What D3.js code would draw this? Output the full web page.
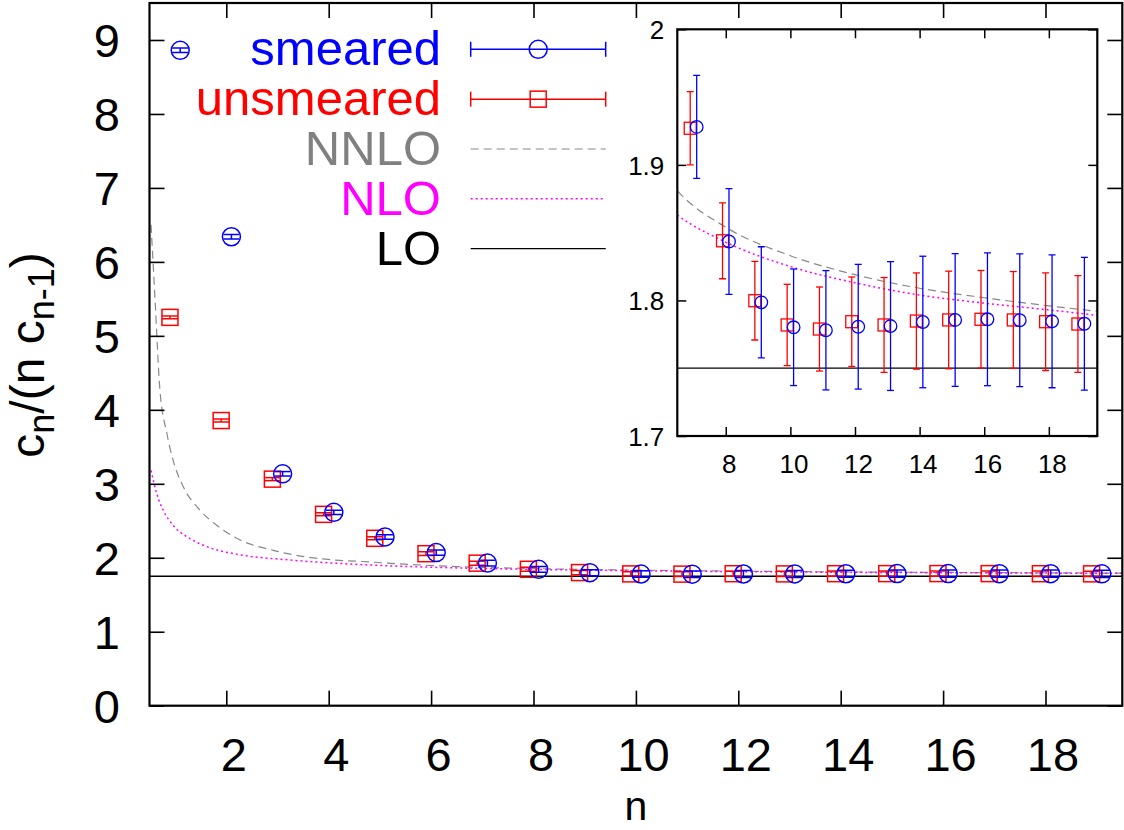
<!DOCTYPE html>
<html><head><meta charset="utf-8">
<script src="https://cdn.jsdelivr.net/npm/d3@7"></script>
<style>
body{margin:0;background:#fff}
svg{display:block}
text{font-family:"Liberation Sans",Arial,Helvetica,sans-serif}
</style></head>
<body><svg id="c" width="1124" height="830"></svg>
<script>
// ---------- data ----------
const nValues = [1,2,3,4,5,6,7,8,9,10,11,12,13,14,15,16,17,18,19];
const smeared = [8.86,6.34,3.135,2.614,2.281,2.07,1.928,1.8435,1.7986,1.7802,1.778,1.7806,1.7811,1.7841,1.7856,1.7861,1.7854,1.7846,1.7828];
const smearedErr = [0.03,0.03,0.03,0.03,0.03,0.035,0.038,0.039,0.041,0.043,0.044,0.046,0.0475,0.0485,0.049,0.049,0.049,0.049,0.049];
const unsmeared = [5.25,3.855,3.063,2.587,2.263,2.055,1.927,1.844,1.7998,1.7819,1.7789,1.7843,1.7819,1.7848,1.7856,1.7861,1.7856,1.7843,1.7826];
const unsmearedErr = [0.02,0.02,0.02,0.02,0.02,0.025,0.027,0.028,0.029,0.030,0.031,0.033,0.035,0.0355,0.036,0.036,0.0357,0.036,0.0357];
const nnloN = [0.53,0.61,0.7,0.84,0.96,1.16,1.49,1.81,2.27,2.92,3.57,4.87,6.5,8,10,12,14,16,18,19.5];
const nnloV = [6.5,5.47,4.3,3.68,3.32,2.96,2.64,2.44,2.24,2.10,2.01,1.94,1.881,1.854,1.833,1.819,1.809,1.802,1.796,1.792];
const nloN = [0.53,0.64,0.77,0.96,1.29,1.62,2.27,3.24,4.87,6.5,8,10,12,14,16,18,19.5];
const nloV = [3.18,2.87,2.64,2.44,2.26,2.15,2.04,1.97,1.90,1.863,1.843,1.825,1.813,1.804,1.798,1.793,1.789];
const loValue = 1.75;
const xTicks = [2,4,6,8,10,12,14,16,18];
const yTicks = [0,1,2,3,4,5,6,7,8,9];
const insetXTicks = [8,10,12,14,16,18];
const insetYTicks = [1.7,1.8,1.9,2.0];
const insetYLabels = ["1.7","1.8","1.9","2"];
const legendLabels = ["smeared","unsmeared","NNLO","NLO","LO"];

// ---------- setup ----------
const svg = d3.select("#c");
const FONT = '"Liberation Sans",Arial,Helvetica,sans-serif';
const BLUE="#0000ff", RED="#ff0000", GRAY="#888888", MAG="#ff00ff";
const M = {l:149.5, r:1122.3, t:3, b:705.7};
const x = d3.scaleLinear().domain([0.5,19.5]).range([M.l,M.r]);
const y = d3.scaleLinear().domain([0,9.5]).range([M.b,M.t]);
const I = {l:677.3, r:1097.3, t:29.3, b:436};
const xi = d3.scaleLinear().domain([6.5,19.5]).range([I.l,I.r]);
const yi = d3.scaleLinear().domain([1.7,2.0]).range([I.b,I.t]);

const defs = svg.append("defs");
defs.append("clipPath").attr("id","clipMain").append("rect")
  .attr("x",M.l).attr("y",M.t).attr("width",M.r-M.l).attr("height",M.b-M.t);
defs.append("clipPath").attr("id","clipInset").append("rect")
  .attr("x",I.l).attr("y",I.t).attr("width",I.r-I.l).attr("height",I.b-I.t);

const zip = (a,b)=>a.map((v,i)=>[v,b[i]]);

function drawCurves(g, xs, ys){
  const ln = d3.line().x(d=>xs(d[0])).y(d=>ys(d[1])).curve(d3.curveMonotoneX);
  g.append("path").attr("d", ln(zip(nnloN,nnloV))).attr("fill","none")
    .attr("stroke",GRAY).attr("stroke-width",1.2).attr("stroke-dasharray","8,5");
  g.append("path").attr("d", ln(zip(nloN,nloV))).attr("fill","none")
    .attr("stroke",MAG).attr("stroke-width",1.5).attr("stroke-dasharray","2,3");
  g.append("line").attr("x1",xs.range()[0]).attr("x2",xs.range()[1])
    .attr("y1",ys(loValue)).attr("y2",ys(loValue)).attr("stroke","#000").attr("stroke-width",1.3);
}

function drawPoints(g, xs, ys, vals, errs, shift, color, kind, size, cap, sw){
  const pts = nValues.map((n,i)=>({n:n+shift, v:vals[i], e:errs[i]}));
  const gg = g.append("g").attr("stroke",color).attr("fill","none").attr("stroke-width",sw);
  pts.forEach(p=>{
    const cx = xs(p.n), cy = ys(p.v), y1 = ys(p.v+p.e), y2 = ys(p.v-p.e);
    gg.append("line").attr("x1",cx).attr("x2",cx).attr("y1",y1).attr("y2",y2);
    gg.append("line").attr("x1",cx-cap).attr("x2",cx+cap).attr("y1",y1).attr("y2",y1);
    gg.append("line").attr("x1",cx-cap).attr("x2",cx+cap).attr("y1",y2).attr("y2",y2);
    if(kind==="circle") gg.append("circle").attr("cx",cx).attr("cy",cy).attr("r",size);
    else gg.append("rect").attr("x",cx-size).attr("y",cy-size).attr("width",2*size).attr("height",2*size);
  });
}

// ---------- main plot ----------
const main = svg.append("g").attr("clip-path","url(#clipMain)");
drawCurves(main, x, y);
drawPoints(main, x, y, unsmeared, unsmearedErr, -0.1, RED, "square", 8, 8, 1.5);
drawPoints(main, x, y, smeared, smearedErr, 0.1, BLUE, "circle", 9, 8, 1.5);

// axes
function styleAxis(g){
  g.select(".domain").remove();
  g.attr("font-family",FONT).attr("font-size",47);
  g.selectAll(".tick line").attr("stroke","#000").attr("stroke-width",1.6);
  g.selectAll("text").attr("fill","#000");
}
svg.append("g").attr("transform",`translate(0,${M.b})`)
  .call(d3.axisBottom(x).tickValues(xTicks).tickSize(-15).tickPadding(32).tickFormat(d3.format("d")))
  .call(styleAxis).call(g=>g.selectAll("text").attr("dx",7));
svg.append("g").attr("transform",`translate(0,${M.t})`)
  .call(d3.axisTop(x).tickValues(xTicks).tickSize(-15).tickFormat(""))
  .call(styleAxis);
svg.append("g").attr("transform",`translate(${M.l},0)`)
  .call(d3.axisLeft(y).tickValues(yTicks).tickSize(-15).tickPadding(29.5).tickFormat(d3.format("d")))
  .call(styleAxis).call(g=>g.selectAll("text").attr("dy","0.36em"));
svg.append("g").attr("transform",`translate(${M.r},0)`)
  .call(d3.axisRight(y).tickValues(yTicks).tickSize(-15).tickFormat(""))
  .call(styleAxis);
svg.append("rect").attr("x",M.l).attr("y",M.t).attr("width",M.r-M.l).attr("height",M.b-M.t)
  .attr("fill","none").attr("stroke","#000").attr("stroke-width",2.2);

// axis titles
svg.append("text").attr("x",(M.l+M.r)/2).attr("y",820).attr("text-anchor","middle")
  .attr("font-size",41).attr("fill","#000").text("n");
const yl = svg.append("text").attr("transform","translate(44,355) rotate(-90)")
  .attr("text-anchor","middle").attr("font-size",48).attr("fill","#000");
yl.append("tspan").text("c");
yl.append("tspan").attr("font-size",36).attr("dy",10).text("n");
yl.append("tspan").attr("dy",-10).text("/(n c");
yl.append("tspan").attr("font-size",36).attr("dy",10).text("n-1");
yl.append("tspan").attr("dy",-10).text(")");

// legend
const legColors = [BLUE,RED,"#808080",MAG,"#000"];
const legY0 = 49.3, legDy = 49.85, legTextX = 441, legX1 = 470.7, legX2 = 605.7;
legendLabels.forEach((lab,i)=>{
  const ly = legY0 + i*legDy;
  svg.append("text").attr("x",legTextX).attr("y",ly+16).attr("text-anchor","end")
    .attr("font-size",49).attr("fill",legColors[i]).text(lab);
  const g = svg.append("g");
  if(i<2){
    const c = legColors[i];
    g.append("line").attr("x1",legX1).attr("x2",legX2).attr("y1",ly).attr("y2",ly).attr("stroke",c).attr("stroke-width",1.5);
    g.append("line").attr("x1",legX1).attr("x2",legX1).attr("y1",ly-7.5).attr("y2",ly+7.5).attr("stroke",c).attr("stroke-width",1.5);
    g.append("line").attr("x1",legX2).attr("x2",legX2).attr("y1",ly-7.5).attr("y2",ly+7.5).attr("stroke",c).attr("stroke-width",1.5);
    const mx = (legX1+legX2)/2;
    if(i===0) g.append("circle").attr("cx",mx).attr("cy",ly).attr("r",9).attr("fill","none").attr("stroke",c).attr("stroke-width",1.5);
    else g.append("rect").attr("x",mx-8).attr("y",ly-8).attr("width",16).attr("height",16).attr("fill","none").attr("stroke",c).attr("stroke-width",1.5);
  } else {
    const ln = g.append("line").attr("x1",legX1).attr("x2",legX2).attr("y1",ly).attr("y2",ly);
    if(i===2) ln.attr("stroke",GRAY).attr("stroke-width",1.2).attr("stroke-dasharray","8,5");
    if(i===3) ln.attr("stroke",MAG).attr("stroke-width",1.5).attr("stroke-dasharray","2,3");
    if(i===4) ln.attr("stroke","#000").attr("stroke-width",1.3);
  }
});

// ---------- inset ----------
svg.append("rect").attr("x",I.l).attr("y",I.t).attr("width",I.r-I.l).attr("height",I.b-I.t).attr("fill","#fff");
const ins = svg.append("g").attr("clip-path","url(#clipInset)");
drawCurves(ins, xi, yi);
drawPoints(ins, xi, yi, unsmeared, unsmearedErr, -0.1, RED, "square", 6, 3.5, 1.3);
drawPoints(ins, xi, yi, smeared, smearedErr, 0.1, BLUE, "circle", 6.3, 3.5, 1.3);

function styleInset(g){
  g.select(".domain").remove();
  g.attr("font-family",FONT).attr("font-size",26);
  g.selectAll(".tick line").attr("stroke","#000").attr("stroke-width",1.5);
  g.selectAll("text").attr("fill","#000");
}
svg.append("g").attr("transform",`translate(0,${I.b})`)
  .call(d3.axisBottom(xi).tickValues(insetXTicks).tickSize(-9).tickPadding(18.5).tickFormat(d3.format("d")))
  .call(styleInset).call(g=>g.selectAll("text").attr("dx",3));
svg.append("g").attr("transform",`translate(0,${I.t})`)
  .call(d3.axisTop(xi).tickValues(insetXTicks).tickSize(-9).tickFormat(""))
  .call(styleInset);
svg.append("g").attr("transform",`translate(${I.l},0)`)
  .call(d3.axisLeft(yi).tickValues(insetYTicks).tickSize(-9).tickPadding(13).tickFormat((d,i)=>insetYLabels[i]))
  .call(styleInset).call(g=>g.selectAll("text").attr("dy","0.36em"));
svg.append("g").attr("transform",`translate(${I.r},0)`)
  .call(d3.axisRight(yi).tickValues(insetYTicks).tickSize(-9).tickFormat(""))
  .call(styleInset);
svg.append("rect").attr("x",I.l).attr("y",I.t).attr("width",I.r-I.l).attr("height",I.b-I.t)
  .attr("fill","none").attr("stroke","#000").attr("stroke-width",2.2);
</script>
</body></html>
